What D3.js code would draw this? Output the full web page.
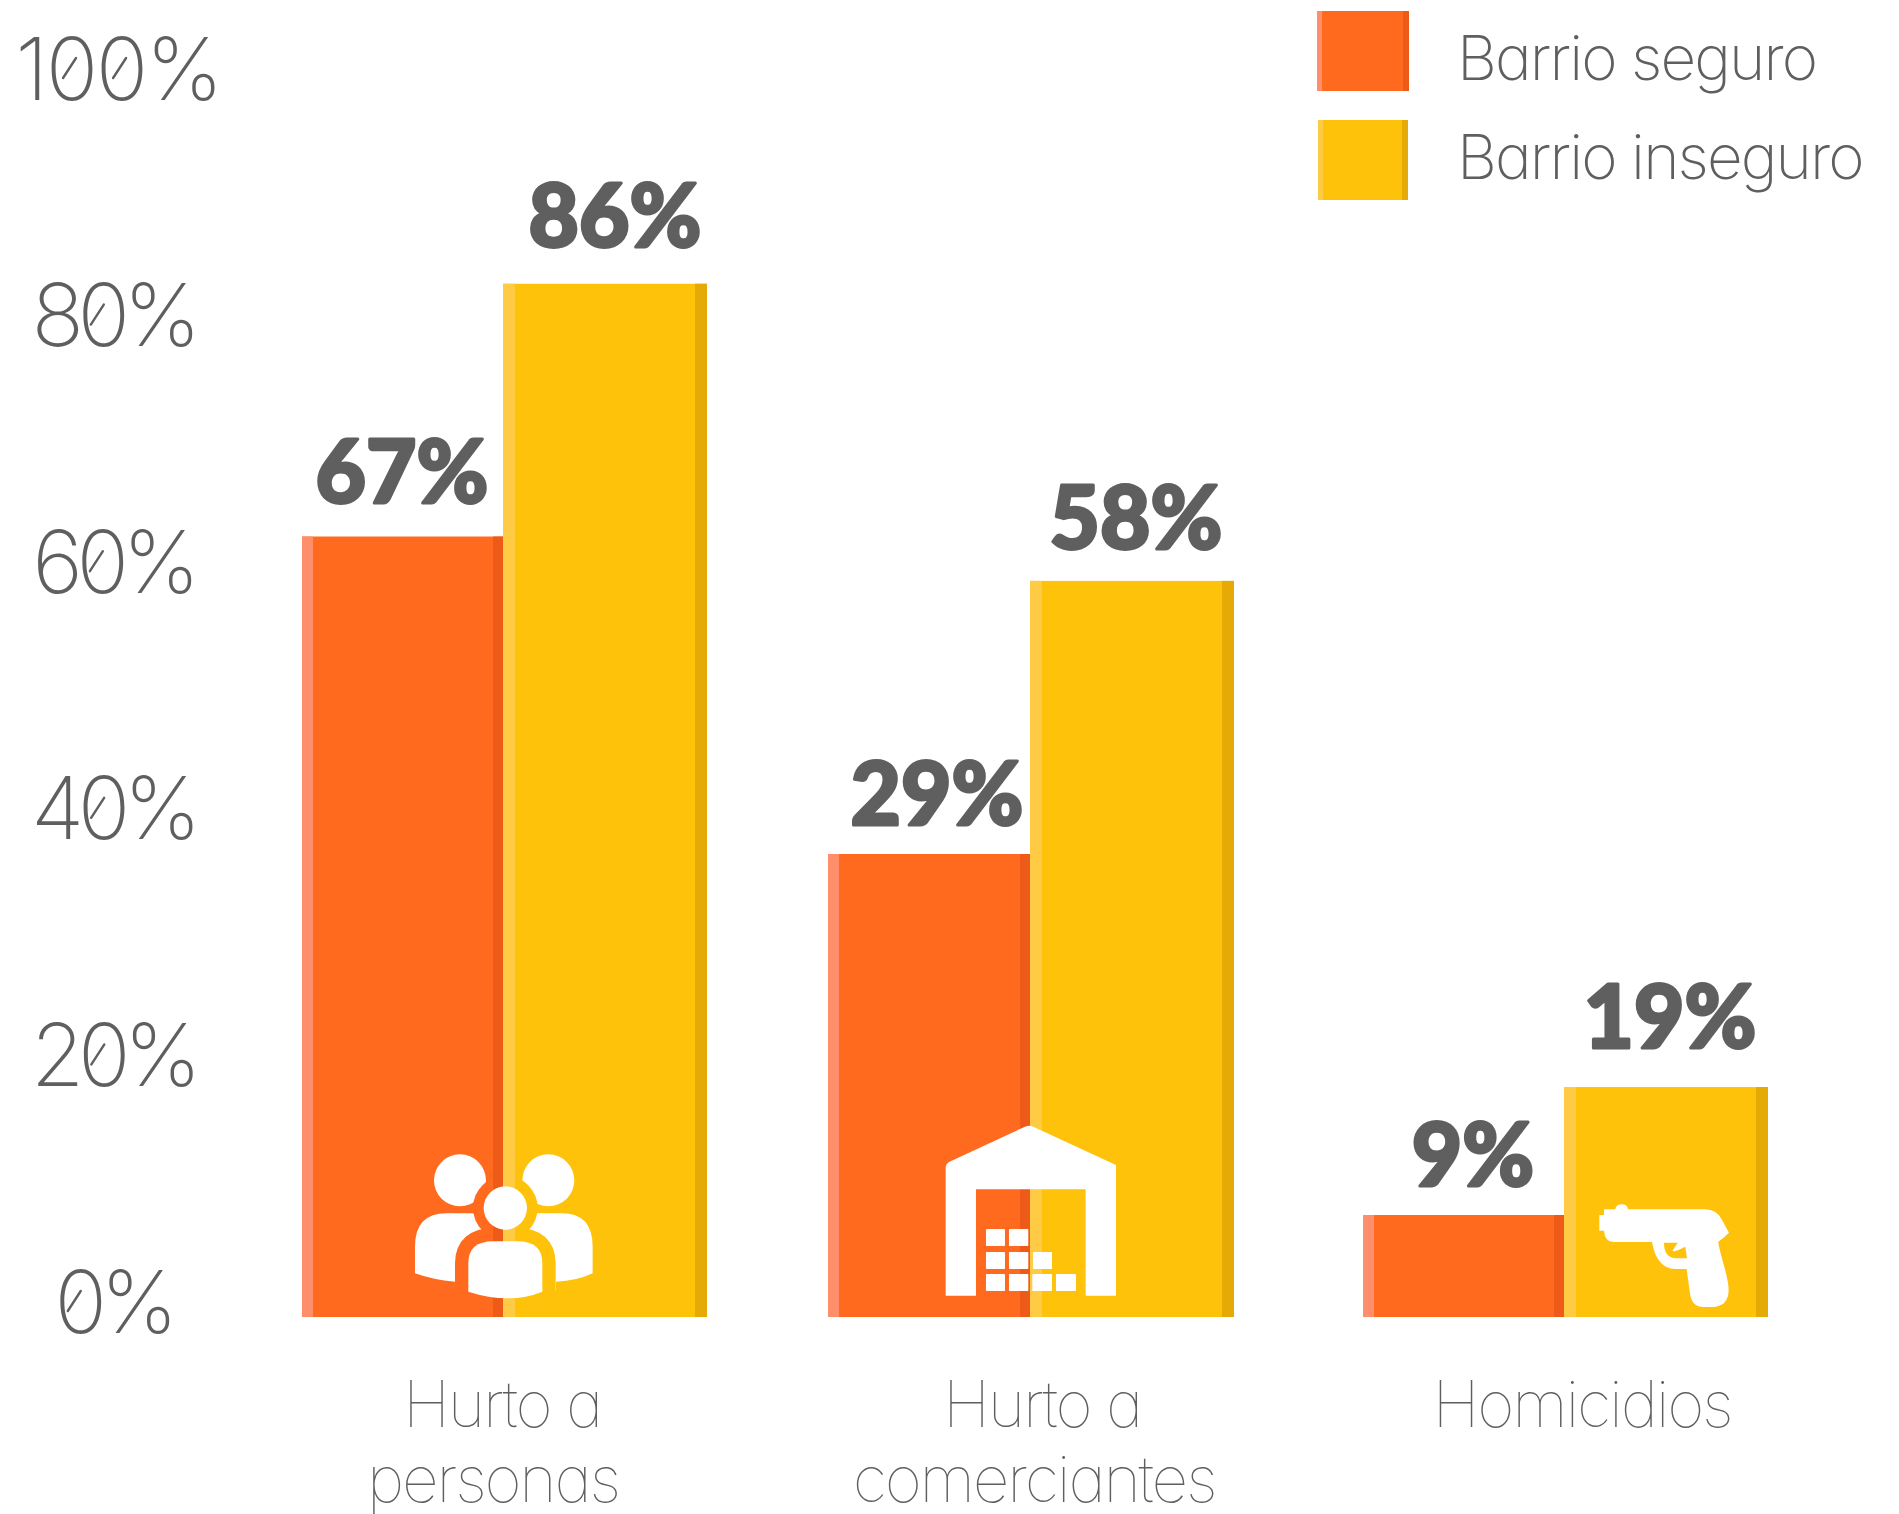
<!DOCTYPE html>
<html><head><meta charset="utf-8">
<script src="https://cdn.jsdelivr.net/npm/d3@7/dist/d3.min.js"></script>
<style>html,body{margin:0;background:#fff}svg{display:block}
.thin{font-family:Inter;font-weight:100;fill:#5f5f5f;font-feature-settings:"cv11" 1}
.tick-t{font-weight:150;font-size:87px;letter-spacing:-6.5px}
.legend-t{font-weight:150;font-size:62px;letter-spacing:-1.9px}
.cat-t{font-size:64px;letter-spacing:-2.2px}
.val{font-family:Lato;font-weight:900;fill:#5f5f5f;stroke:#5f5f5f;stroke-width:3;stroke-linejoin:round;font-size:87px}
</style></head><body><svg id="c" width="1899" height="1514"></svg>
<script>
const categories=["Hurto a personas","Hurto a comerciantes","Homicidios"];
const categoryLines=[["Hurto a","personas"],["Hurto a","comerciantes"],["Homicidios"]];
const seriesNames=["Barrio seguro","Barrio inseguro"];
const seguroLabels=[67,29,9];
const inseguroLabels=[86,58,19];
// Bar heights as drawn in the picture, read against the axis (they differ from the printed labels)
const seguroHeights=[63.3,37.55,8.27];
const inseguroHeights=[83.8,59.7,18.65];
const tickValues=[0,20,40,60,80,100];

const svg=d3.select("#c");
const y=d3.scaleLinear().domain([0,100]).range([1317,84]);
const xS=d3.scaleOrdinal().domain(categories).range([302,828,1363]);
const xI=d3.scaleOrdinal().domain(categories).range([503,1030,1564]);
const inseguroW=204;
const palette={s:{main:"#FF6A1F",light:"#FF8F6B",dark:"#EE5A18"},i:{main:"#FFC20A",light:"#FFCB45",dark:"#E5AA06"}};

function bar(g,x0,w,top,bottom,c,lw,dw){
  g.append("rect").attr("x",x0).attr("y",top).attr("width",w).attr("height",bottom-top).attr("fill",c.main);
  g.append("rect").attr("x",x0).attr("y",top).attr("width",lw).attr("height",bottom-top).attr("fill",c.light);
  g.append("rect").attr("x",x0+w-dw).attr("y",top).attr("width",dw).attr("height",bottom-top).attr("fill",c.dark);
}
const bars=svg.append("g");
categories.forEach((c,i)=>{
  bar(bars,xS(c),xI(c)-xS(c),y(seguroHeights[i]),y(0),palette.s,11,10);
  bar(bars,xI(c),inseguroW,y(inseguroHeights[i]),y(0),palette.i,12,12);
});

// y axis
const yAxis=d3.axisLeft(y).tickValues(tickValues).tickFormat(d=>d+"%").tickSize(0);
const ax=svg.append("g").attr("transform","translate(113,0)").call(yAxis);
ax.select(".domain").remove();
ax.selectAll("text").attr("class","thin tick-t").attr("x",d=>d===100?5:0).attr("dy",15).attr("text-anchor","middle")
  .style("letter-spacing",d=>d===100?"-2.5px":null);
// the inner stroke of the reference's zero glyph
const slashes=svg.append("g").attr("stroke","#5f5f5f").attr("stroke-width",2.4).attr("stroke-linecap","round");
ax.selectAll("text").each(function(d){
  const s=this.textContent, m=this.getScreenCTM();
  for(let i=0;i<s.length;i++) if(s[i]==="0"){
    const b=this.getExtentOfChar(i);
    const cx=b.x+b.width/2-(d===100?1.2:3.2)+m.e;
    const yc=y(d)-16;
    slashes.append("line").attr("x1",cx-6.5).attr("x2",cx+6.5).attr("y1",yc+10).attr("y2",yc-10);
  }
});

// value labels
const valCx=[[402,615],[937,1136],[1473,1670]];
const valGap=[[34,37],[29,32],[29,39]];
categories.forEach((c,i)=>{
  [[seguroLabels,seguroHeights],[inseguroLabels,inseguroHeights]].forEach((p,k)=>{
    svg.append("text").attr("class","val").attr("text-anchor","middle")
      .attr("x",valCx[i][k]).attr("y",y(p[1][i])-valGap[i][k]).text(p[0][i]+"%");
  });
});

// category labels
const lineBase=[1427,1502];
const lineCx=[[502,493],[1042,1034],[1582]];
categoryLines.forEach((ls,i)=>ls.forEach((t,j)=>{
  svg.append("text").attr("class","thin cat-t").attr("text-anchor","middle")
    .attr("x",lineCx[i][j]).attr("y",lineBase[j]).text(t);
}));

// legend
const swatches=[[1317,11,92,80,palette.s],[1318,120,90,80,palette.i]];
seriesNames.forEach((n,i)=>{
  const s=swatches[i];
  bar(svg.append("g"),s[0],s[2],s[1],s[1]+s[3],s[4],5,6);
  svg.append("text").attr("class","thin legend-t").attr("x",1457).attr("y",[80,179][i]).text(n);
});

// icons (traced glyph outlines, in zoom units)
const defs=svg.append("defs");
const centerBody="M565,575 V490 Q565,424 640,424 H712 Q787,424 787,490 V575 Q690,615 565,575 Z";
const m=defs.append("mask").attr("id","halo").attr("maskUnits","userSpaceOnUse").attr("x",0).attr("y",0).attr("width",1500).attr("height",800);
m.append("rect").attr("width",1500).attr("height",800).attr("fill","#fff");
m.append("circle").attr("cx",676).attr("cy",324).attr("r",97).attr("fill","#000");
m.append("path").attr("d",centerBody).attr("fill","#000").attr("stroke","#000").attr("stroke-width",80);
const people=svg.append("g").attr("transform","translate(280,1100) scale(0.3333)").attr("fill","#fff");
const back=people.append("g").attr("mask","url(#halo)");
back.append("circle").attr("cx",540).attr("cy",241).attr("r",78);
back.append("circle").attr("cx",805).attr("cy",241).attr("r",78);
back.append("path").attr("d","M405,520 V440 Q405,340 500,340 H670 V570 H525 V545 Q460,540 405,520 Z");
back.append("path").attr("d","M938,520 V440 Q938,340 845,340 H670 V570 H828 V545 Q890,543 938,520 Z");
people.append("circle").attr("cx",676).attr("cy",324).attr("r",65);
people.append("path").attr("d",centerBody);

const house=svg.append("g").attr("transform","translate(800,1100) scale(0.3333)").attr("fill","#fff");
house.append("path").attr("d","M437,205 Q437,192 447,186 L675,80 Q688,74 700,80 L948,195 V587 H857 V268 H528 V587 H437 Z");
[[558,387,57],[627,387,58],[558,456,57],[627,456,58],[699,456,57],[558,522,57],[627,522,58],[697,522,59],[768,522,60]]
 .forEach(b=>house.append("rect").attr("x",b[0]).attr("y",b[1]).attr("width",b[2]).attr("height",51).attr("rx",2));

svg.append("g").attr("transform","translate(1340,1100) scale(0.3333)").append("path").attr("fill","#fff").attr("fill-rule","evenodd")
 .attr("d","M778,345 H792 V328 H826 Q828,313 845,313 Q862,313 864,328 H1095 Q1130,328 1145,358 L1167,398 Q1150,415 1135,425 Q1135,435 1150,490 Q1166,545 1166,570 Q1166,620 1115,621 H1090 Q1055,621 1050,580 L1040,507 H1005 Q950,505 936,426 H820 Q795,426 792,392 H778 Z M972,428 H1013 L998,452 Q1000,458 1036,440 L1041,475 H1005 Q972,470 972,428 Z");
</script></body></html>
